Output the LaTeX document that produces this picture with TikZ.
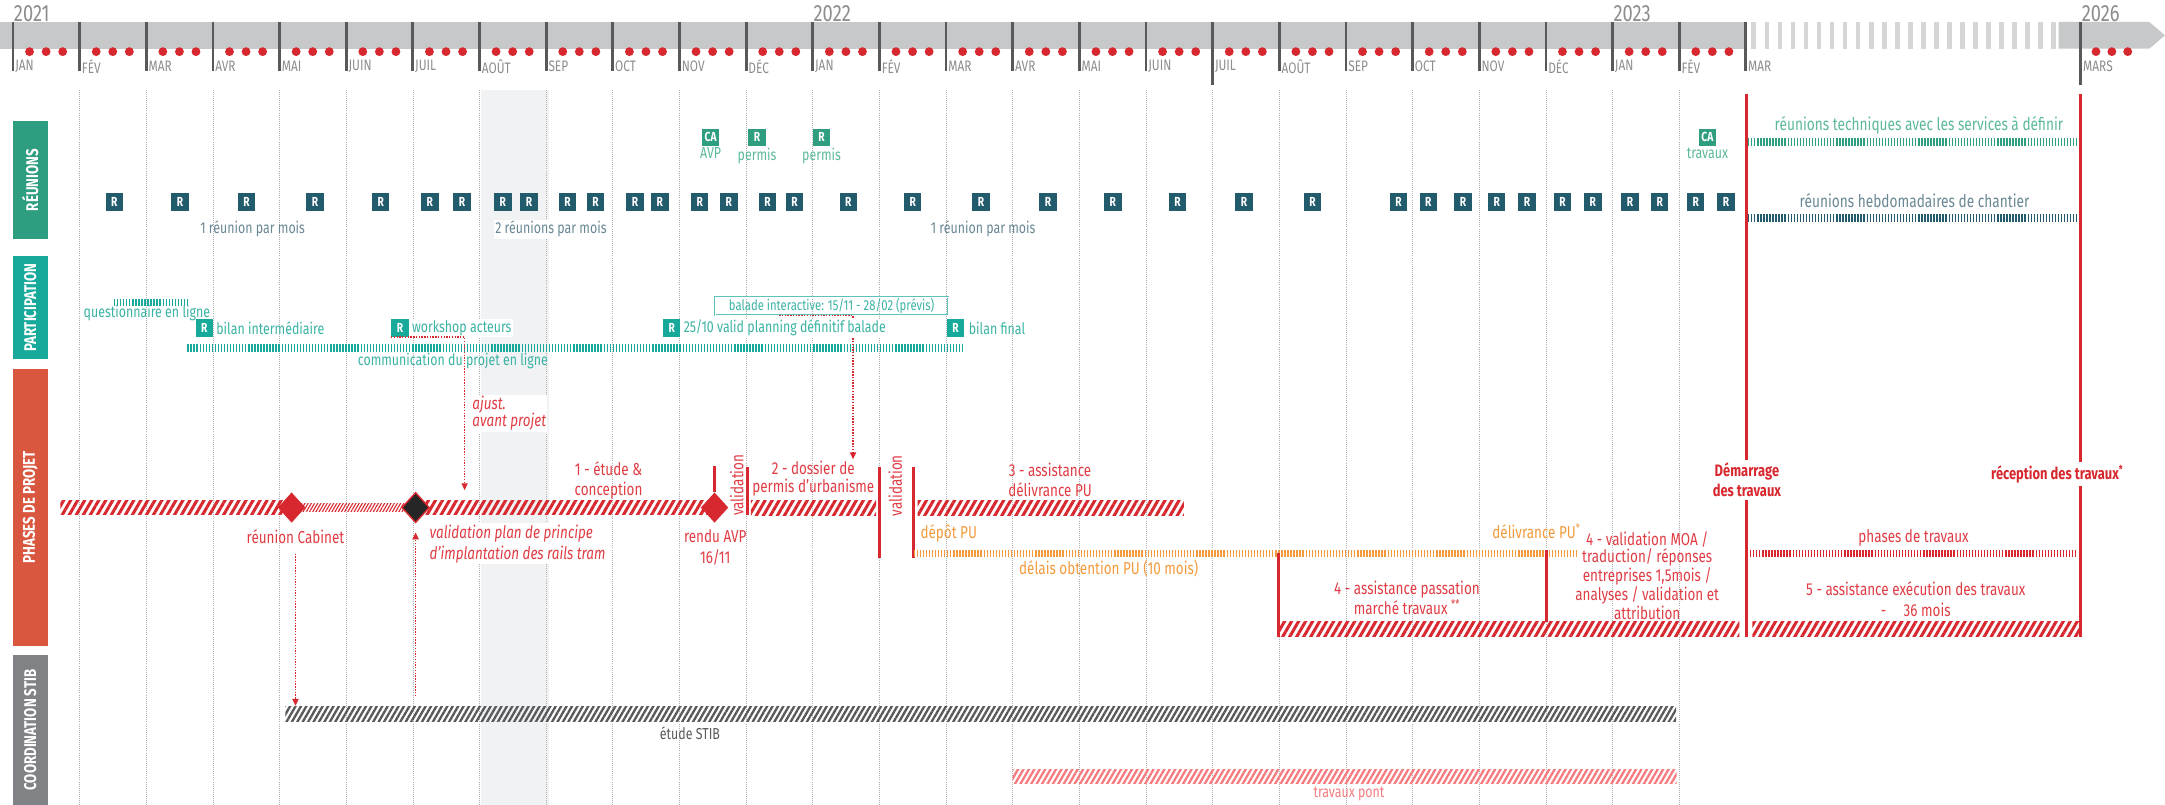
\documentclass[tikz,border=0pt]{standalone}
\usepackage{fontspec}
\setmainfont{Fira Sans}[FakeStretch=0.78]
\usetikzlibrary{positioning,shapes.geometric,arrows.meta,patterns.meta}

\definecolor{barGray}{HTML}{C7C8CA}
\definecolor{tickGray}{HTML}{58595B}
\definecolor{labGray}{HTML}{8B8C8E}
\definecolor{gridGray}{HTML}{B0B0B0}
\definecolor{colGray}{HTML}{F1F2F3}
\definecolor{tRed}{HTML}{D7282F}
\definecolor{txtRed}{HTML}{E03C44}
\definecolor{tOrange}{HTML}{F39A3C}
\definecolor{tTeal}{HTML}{17A99A}
\definecolor{pTxt}{HTML}{3BB3A4}
\definecolor{tGreen}{HTML}{2F9E80}
\definecolor{gTxt}{HTML}{5CB99A}
\definecolor{tDark}{HTML}{225B6C}
\definecolor{tSlate}{HTML}{6A8794}
\definecolor{tPink}{HTML}{F47C80}
\definecolor{phRed}{HTML}{D9573F}
\definecolor{stibGray}{HTML}{808285}

\begin{document}
\begin{tikzpicture}[x=1pt, y=-1pt,
    txt/.style={inner sep=1pt, font=\fontsize{11.5}{13}\selectfont},
    phtxt/.style={inner sep=1pt, text=txtRed, align=center, font=\fontsize{12.5}{14.5}\selectfont},
    boldtxt/.style={phtxt, text=tRed, fill=white, inner sep=2pt, font=\bfseries\fontsize{12}{14.5}\selectfont},
    monthlab/.style={anchor=west, inner sep=1.5pt, text=labGray, font=\fontsize{11}{11}\selectfont},
    yearlab/.style={anchor=west, inner sep=0.5pt, text=labGray, font=\fontsize{17}{17}\selectfont},
    monthtick/.style={tickGray, line width=2pt},
    gridline/.style={gridGray, densely dotted, line width=0.5pt},
    rbox/.style={rectangle, fill=tDark, text=white, minimum size=12.6pt, inner sep=0pt, font=\bfseries\fontsize{9.5}{9.5}\selectfont},
    gbox/.style={rbox, fill=tGreen},
    pbox/.style={rbox, fill=tTeal},
    sectlabel/.style={rectangle, rotate=90, inner sep=0pt, minimum height=25.3pt, text=white, font=\bfseries\fontsize{12.3}{12.3}\selectfont},
    ticked/.style={line width=5.3pt, dash pattern=on 1pt off 1.2pt},
    hatchband/.style={rectangle, inner sep=0pt, anchor=west, minimum height=10.6pt, pattern={Lines[angle=60,distance=4.4pt,line width=2.2pt]}, pattern color=tRed},
    finehatch/.style={hatchband, minimum height=5.3pt, pattern={Lines[angle=60,distance=2pt,line width=0.8pt]}},
    stibhatch/.style={hatchband, pattern={Lines[angle=60,distance=3.4pt,line width=1.7pt]}, pattern color=tickGray},
    ponthatch/.style={stibhatch, pattern color=tPink},
    milestone/.style={diamond, fill=tRed, inner sep=0pt, minimum width=20pt, minimum height=22pt},
    redline/.style={tRed, line width=2.2pt},
    redarrow/.style={tRed, line width=1pt, densely dotted, -{Triangle[length=5pt,width=4.5pt]}}
]
\useasboundingbox (0,0) rectangle (1568,583);

    % août 2021 column
    \fill[colGray] (348.4,65) rectangle (397.4,583);

    % grid
    \foreach \m in {1,...,25} {
        \pgfmathsetmacro{\x}{9.4+48.27*\m}
        \draw[gridline] (\x,65) -- (\x,583);
    }

    % time bar
    \fill[barGray] (0,15.9) rectangle (1265,35.3);
    \foreach \i in {0,...,23}
        \fill[barGray!75] ({1268.5+9.43*\i},15.9) rectangle ++(3.5,19.4);
    \fill[barGray] (1491,15.9) -- (1556.6,15.9) -- (1568,25.6) -- (1556.6,35.3) -- (1491,35.3) -- cycle;

    % months
    \foreach \m/\lab in {0/JAN,1/FÉV,2/MAR,3/AVR,4/MAI,5/JUIN,6/JUIL,7/AOÛT,8/SEP,9/OCT,10/NOV,11/DÉC,
                         12/JAN,13/FÉV,14/MAR,15/AVR,16/MAI,17/JUIN,18/JUIL,19/AOÛT,20/SEP,21/OCT,22/NOV,23/DÉC,
                         24/JAN,25/FÉV,26/MAR} {
        \pgfmathsetmacro{\x}{9.4+48.27*\m}
        \draw[monthtick] (\x,15.9) -- (\x,51.2);
        \node[monthlab] (mo\m) at (\x,48.3) {\lab};
    }
    \foreach \m in {0,...,25} {
        \pgfmathsetmacro{\x}{9.4+48.27*\m}
        \foreach \d in {12,24,36}
            \fill[tRed] (\x+\d,37.4) circle (3.2);
    }
    \draw[monthtick] (878.3,15.9) -- (878.3,61.6);
    \draw[monthtick] (1507,15.9) -- (1507,61.6);
    \node[monthlab] (mars) at (1507,48.3) {MARS};
    \foreach \d in {11,22.5,34}
        \fill[tRed] (1507+\d,37.4) circle (3.2);

    \node[yearlab] (y21) at (9.4,9.8) {2021};
    \node[yearlab] (y22) at (588.6,9.8) {2022};
    \node[yearlab] (y23) at (1167.9,9.8) {2023};
    \node[yearlab] (y26) at (1507,9.8) {2026};

    % section labels
    \node[sectlabel, fill=tGreen, minimum width=85.7pt] (sreu) at (21.9,130.4) {RÉUNIONS};
    \node[sectlabel, fill=tTeal, minimum width=74.9pt] (spart) at (21.9,222.8) {PARTICIPATION};
    \node[sectlabel, fill=phRed, minimum width=200.4pt] (sphase) at (21.9,367.5) {PHASES DE PROJET};
    \node[sectlabel, fill=stibGray, minimum width=108.6pt] (sstib) at (21.9,528.7) {COORDINATION STIB};

    % réunions
    \foreach \x [count=\i] in {82.8,130.4,178.6,228.2,275.7,311.3,334.6,364.2,383.1,411.0,431.3,459.9,477.9,506.8,
                               527.9,555.9,575.5,614.4,661,710.5,759,806,852.9,901,950.6,1012.9,
                               1034.5,1059.6,1084,1105.9,1131.7,1153.6,1180.5,1202,1228.1,1250.1}
        \node[rbox] (r\i) at (\x,146.3) {R};

    \node[gbox] (ca1) at (514.7,99.5) {CA};
    \node[txt, text=gTxt, below=0pt of ca1] {AVP};
    \node[gbox] (g1) at (548.3,99.5) {R};
    \node[txt, text=gTxt, below=0pt of g1] {permis};
    \node[gbox] (g2) at (595,99.5) {R};
    \node[txt, text=gTxt, below=0pt of g2] {permis};
    \node[gbox] (ca2) at (1236.6,99.5) {CA};
    \node[txt, text=gTxt, below=0pt of ca2] {travaux};

    \node[txt, text=tSlate] (mois1) at (183,166) {1 réunion par mois};
    \node[txt, text=tSlate, fill=white] (mois2) at (399,166) {2 réunions par mois};
    \node[txt, text=tSlate] (mois3) at (712,166) {1 réunion par mois};

    \node[txt, text=gTxt, font=\fontsize{12.7}{13}\selectfont] (tech) at (1389.8,91) {réunions techniques avec les services à définir};
    \draw[ticked, tGreen] (1266,102.9) -- (1505,102.9);
    \node[txt, text=tSlate, font=\fontsize{12.7}{13}\selectfont] (hebdo) at (1386.6,145.6) {réunions hebdomadaires de chantier};
    \draw[ticked, tDark] (1266,157.8) -- (1505,157.8);

    % participation
    \draw[ticked, tTeal] (82.5,219) -- (135.7,219);
    \node[txt, text=pTxt] (quest) at (106.4,226.5) {questionnaire en ligne};
    \draw[ticked, tTeal] (135.7,252) -- (698.2,252);
    \node[txt, text=pTxt] (comm) at (328,261.3) {communication du projet en ligne};

    \node[pbox] (p1) at (148,237.6) {R};
    \node[txt, text=pTxt, right=1pt of p1] (bilan1) {bilan intermédiaire};
    \node[pbox] (p2) at (289.7,237.6) {R};
    \node[txt, text=pTxt, fill=white, right=1pt of p2] (ws) {workshop acteurs};

    \node[txt, text=pTxt, draw=tTeal!70, line width=0.5pt, double=white, double distance=0.6pt,
          minimum width=168.6pt, minimum height=12.9pt, font=\fontsize{10.5}{11}\selectfont] (balade)
          at (602.3,221.7) {balade interactive: 15/11 - 28/02 (prévis)};
    \coordinate (baend) at (617.8,332.6);
    \draw[redarrow] ([xshift=-38pt]balade.south) -| (baend);

    \node[pbox] (p3) at (486.5,237.6) {R};
    \node[txt, text=pTxt, fill=white, right=1pt of p3] (plan) {25/10 valid planning définitif balade};
    \node[pbox] (p4) at (692,237.6) {R};
    \node[txt, text=pTxt, right=2pt of p4] (bilan2) {bilan final};

    % phases de projet
    \node[hatchband, minimum width=168.4pt] (b1) at (42.6,367.6) {};
    \node[finehatch, minimum width=90pt] (b1f) at (211,367.6) {};
    \node[hatchband, minimum width=216pt] (b2) at (301,367.6) {};
    \node[milestone] (cab) at (211.2,367.6) {};
    \node[milestone, fill=black!85, draw=tRed, line width=1pt] (vpp) at (301,367.6) {};
    \node[milestone] (avp) at (517.5,367.6) {};
    \draw[redline] (avp.north) -- ++(0,-19);

    \node[phtxt] (cabtxt) at (214,388.7) {réunion Cabinet};
    \node[phtxt, fill=white, align=left, anchor=west, font=\itshape\fontsize{12.5}{15.2}\selectfont] (vpptxt)
          at (310,393.9) {validation plan de principe\\d'implantation des rails tram};
    \node[phtxt, fill=white, align=left, anchor=west, font=\itshape\fontsize{12.5}{12.5}\selectfont] (ajust)
          at (341,299.2) {ajust.\\avant projet};
    \node[phtxt] (etude) at (440.7,347.6) {1 - étude \&\\conception};
    \node[phtxt, font=\fontsize{12.5}{15.2}\selectfont] (rendu) at (518,396.3) {rendu AVP\\16/11};

    \draw[redline] (541.3,338.5) -- (541.3,373);
    \node[phtxt, rotate=90] (val1) at (533.6,351.3) {validation};
    \node[hatchband, minimum width=90.7pt] (b3) at (543.6,367.8) {};
    \node[phtxt, font=\fontsize{12.5}{12.8}\selectfont] (dossier) at (589,346.8) {2 - dossier de\\permis d'urbanisme};

    \draw[redline] (636.7,338.5) -- (636.7,404);
    \node[phtxt, rotate=90] (val2) at (648.3,351.8) {validation};
    \draw[redline] (661.7,338.5) -- (661.7,404);
    \node[hatchband, minimum width=192.9pt] (b4) at (664.3,367.8) {};
    \node[phtxt] (assist) at (760.5,347.6) {3 - assistance\\délivrance PU};

    \node[phtxt, text=tOrange, anchor=west] (depot) at (665.5,386.3) {dépôt PU};
    \draw[ticked, tOrange] (661.7,401) -- (1143,401);
    \node[phtxt, text=tOrange] (delais) at (803,411.6) {délais obtention PU (10 mois)};
    \node[phtxt, text=tOrange, anchor=east] (deliv) at (1146,384.5) {délivrance PU\textsuperscript{*}};

    \draw[redline] (926,400.8) -- (926,461);
    \node[hatchband, minimum width=333pt] (b5) at (926.5,455.5) {};
    \node[phtxt, font=\fontsize{12.5}{12.8}\selectfont] (passation) at (1019,433) {4 - assistance passation\\marché travaux \textsuperscript{**}};
    \draw[redline] (1120,398.4) -- (1120,450.3);
    \node[phtxt, font=\fontsize{12.5}{12.4}\selectfont] (moa) at (1193,417) {4 - validation MOA /\\traduction/ réponses\\entreprises 1,5mois /\\analyses / validation et\\attribution};

    \draw[redline] (1265,68) -- (1265,461);
    \draw[redline] (1507,68) -- (1507,461);
    \node[boldtxt] (demar) at (1265.2,347.6) {Démarrage\\des travaux};
    \node[boldtxt] (recep) at (1490,343.3) {réception des travaux\textsuperscript{*}};
    \node[phtxt] (phtrav) at (1385.9,389.2) {phases de travaux};
    \draw[ticked, tRed] (1267.4,401) -- (1505,401);
    \node[phtxt, font=\fontsize{12.5}{15.2}\selectfont] (exec) at (1387.5,434.2) {5 - assistance exécution des travaux\\-\quad 36 mois};
    \node[hatchband, minimum width=238pt] (b6) at (1269,455.5) {};

    % coordination STIB
    \node[stibhatch, minimum width=1007.2pt] (stib) at (205.8,517.3) {};
    \node[txt, text=tickGray] (stibtxt) at (499.7,530.7) {étude STIB};
    \node[ponthatch, minimum width=480.8pt] (pont) at (733.2,562.5) {};
    \node[txt, text=tPink] (ponttxt) at (977,575.1) {travaux pont};

    % links
    \coordinate (ajend) at (336.5,355);
    \draw[redarrow] (p2.south west) -| (ajend);
    \draw[redarrow] ([yshift=-6pt]cabtxt.south) -- (cabtxt.south |- stib.north);
    \coordinate (vppfoot) at (vpp.south |- stib.north);
    \draw[redarrow] ([yshift=7pt]vppfoot) -- ([yshift=-6.5pt]vpp.south);

\end{tikzpicture}
\end{document}
